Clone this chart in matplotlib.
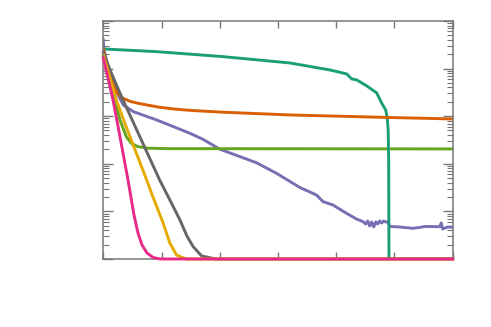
import numpy as np
import matplotlib
matplotlib.use("Agg")
import matplotlib.pyplot as plt
from matplotlib.ticker import LogLocator, NullFormatter, MultipleLocator

# curves (x in 0..6, y on a log axis, floor at 1e-5)
teal_x = [0, 0.921, 2.053, 3.202, 3.597, 3.889, 4.180, 4.266, 4.352, 4.524, 4.695, 4.780, 4.849, 4.875, 4.892, 4.900, 4.906, 6.0]
teal_y = [0.258, 0.226, 0.178, 0.131, 0.108, 0.0935, 0.0771, 0.0605, 0.0577, 0.0431, 0.0307, 0.0189, 0.0135, 0.0094, 0.00513, 0.0012, 1e-5, 1e-5]

orange_x = [0, 0.08, 0.16, 0.24, 0.312, 0.40, 0.475, 0.60, 0.767, 0.95, 1.196, 1.5, 2.053, 3.202, 4.866, 6.0]
orange_y = [0.258, 0.095, 0.048, 0.031, 0.0247, 0.0220, 0.0202, 0.0186, 0.0170, 0.0155, 0.0142, 0.0132, 0.0121, 0.0106, 0.0094, 0.00873]

green_x = [0, 0.115, 0.196, 0.286, 0.395, 0.480, 0.595, 0.767, 1.110, 6.0]
green_y = [0.223, 0.0635, 0.0219, 0.0083, 0.0037, 0.0027, 0.00229, 0.00212, 0.00208, 0.00205]

purple_x = [0, 0.012, 0.115, 0.235, 0.343, 0.515, 0.916, 1.487, 1.710, 2.002, 2.631, 2.974,
            3.374, 3.660, 3.774, 3.945, 4.175, 4.346, 4.460, 4.506, 4.540, 4.575, 4.609,
            4.643, 4.678, 4.712, 4.746, 4.780, 4.815, 4.849, 4.883, 4.918, 5.089, 5.312,
            5.432, 5.518, 5.775, 5.804, 5.827, 5.912, 6.0]
purple_y = [0.40, 0.246, 0.0734, 0.0307, 0.0172, 0.01244, 0.00832, 0.00437, 0.00327, 0.00202,
            0.00105, 6.3e-4, 3.18e-4, 2.21e-4, 1.60e-4, 1.36e-4, 9.12e-5, 6.92e-5, 6.08e-5,
            5.43e-5, 6.28e-5, 4.93e-5, 5.98e-5, 4.70e-5, 5.98e-5, 5.43e-5, 6.28e-5, 5.70e-5,
            6.28e-5, 5.98e-5, 6.14e-5, 4.82e-5, 4.70e-5, 4.41e-5, 4.59e-5, 4.82e-5, 4.77e-5,
            5.70e-5, 4.27e-5, 4.70e-5, 4.63e-5]

gray_x = [0, 0.115, 0.338, 0.629, 0.967, 1.144, 1.316, 1.436, 1.544, 1.688, 1.831, 1.933, 6.0]
gray_y = [0.223, 0.0935, 0.0219, 0.00366, 4.57e-4, 1.73e-4, 6.6e-5, 3.04e-5, 1.81e-5, 1.16e-5, 1.06e-5, 1e-5, 1e-5]

yellow_x = [0, 0.115, 0.223, 0.372, 0.509, 0.686, 0.853, 1.029, 1.144, 1.259, 1.372, 1.436, 6.0]
yellow_y = [0.193, 0.0635, 0.0219, 0.0070, 0.00254, 7.06e-4, 2.01e-4, 5.62e-5, 2.14e-5, 1.21e-5, 1.06e-5, 1e-5, 1e-5]

pink_x = [0, 0.081, 0.166, 0.252, 0.338, 0.424, 0.527, 0.595, 0.664, 0.750, 0.852, 0.972, 6.0]
pink_y = [0.167, 0.0635, 0.0219, 0.00622, 0.00169, 4.57e-4, 8.4e-5, 3.52e-5, 1.97e-5, 1.34e-5, 1.08e-5, 1e-5, 1e-5]

fig = plt.figure(figsize=(4.91, 3.27), dpi=100)
ax = fig.add_axes([0.2104, 0.208, 0.7116, 0.728])

lw = 2.1
ax.plot(purple_x, purple_y, c="#7570b3", lw=lw)
ax.plot(green_x, green_y, c="#66a61e", lw=lw)
ax.plot(teal_x, teal_y, c="#1b9e77", lw=lw)
ax.plot(orange_x, orange_y, c="#d95f02", lw=lw)
ax.plot(gray_x, gray_y, c="#666666", lw=lw, clip_on=False)
ax.plot(yellow_x, yellow_y, c="#e6ab02", lw=lw, clip_on=False)
ax.plot(pink_x, pink_y, c="#e7298a", lw=lw, clip_on=False, zorder=3)

ax.set_yscale("log")
ax.set(xlim=(0, 6), ylim=(1e-5, 1))
ax.xaxis.set_major_locator(MultipleLocator(1))
ax.yaxis.set_major_locator(LogLocator(base=10, numticks=10))
ax.yaxis.set_minor_locator(LogLocator(base=10, subs=np.arange(2, 10), numticks=10))
ax.yaxis.set_minor_formatter(NullFormatter())
ax.tick_params(which="both", direction="in", top=True, right=True,
               labelbottom=False, labelleft=False, color="#777777")
ax.tick_params(axis="x", which="major", length=5, width=1)
ax.tick_params(axis="y", which="major", length=7, width=1)
ax.tick_params(axis="y", which="minor", length=4, width=0.8)
for s in ax.spines.values():
    s.set_color("#777777")
    s.set_linewidth(1.1)

fig.savefig("out.png", dpi=100)
